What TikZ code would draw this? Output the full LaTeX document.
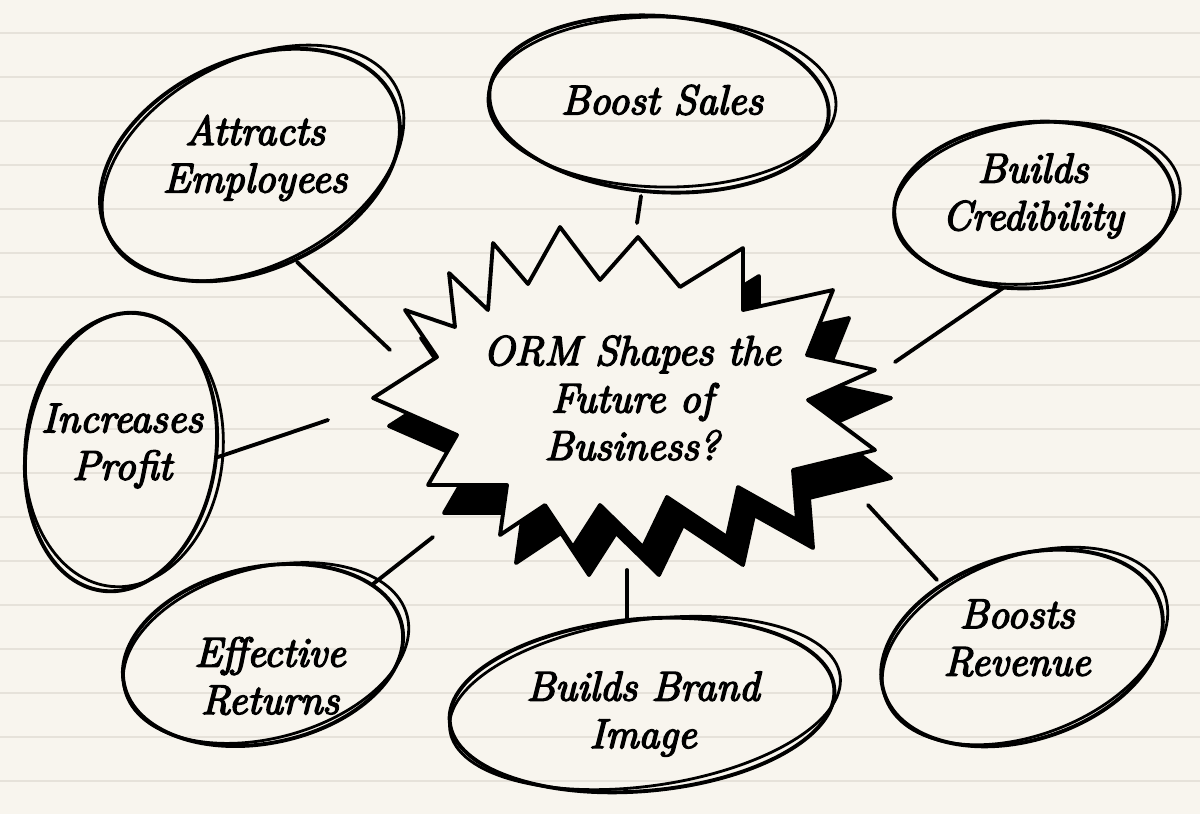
\documentclass[tikz,border=0pt]{standalone}
\usepackage{fontspec}
\usepackage{tikz}

\newfontfamily\handfont[ItalicFeatures={FakeBold=4}]{Latin Modern Roman}
\definecolor{paper}{HTML}{F8F5EE}
\definecolor{ruling}{HTML}{E6E2DA}

\begin{document}
\begin{tikzpicture}[x=0.01cm, y=-0.01cm,
    ink/.style={line width=1.1pt, black, line cap=round, line join=round},
    inkthin/.style={line width=0.8pt, black, line cap=round},
    label/.style={align=center, font=\fontsize{11.8}{13.5}\selectfont\handfont\itshape},
    shadow/.style={fill=black, draw=black, line width=1.1pt, line join=round},
    burst/.style={fill=paper, draw=black, line width=1.1pt, line join=round}]

    % paper
    \fill[paper] (0,0) rectangle (1200,814);
    \useasboundingbox (0,0) rectangle (1200,814);
    \foreach \yy in {33,77,...,781}
        \draw[ruling, line width=0.6pt] (0,\yy) -- (1200,\yy);

    % bubbles (centre / radii / tilt), drawn twice like a pen sketch
    \foreach \cx/\cy/\rx/\ry/\tilt in {250/165/158/105/25, 659/104/170/88/-4,
        1034/205/140/83/4, 121/452/95/140/-8, 263/655/142/88/12,
        642/705/193/86/5, 1022/648/145/92/18}{
        \draw[ink] (\cx,\cy) ellipse[x radius=\rx, y radius=\ry, rotate=\tilt];
        \draw[inkthin] (\cx+3,\cy-2) ellipse[x radius=\rx+4, y radius=\ry-3, rotate=\tilt+3];
    }

    % the burst with its shadow
    \foreach \st/\dx/\dy in {shadow/16/28, burst/0/0}
        \draw[\st, shift={(\dx,\dy)}] (373,398) -- (437,357) -- (405,310) -- (455,327)
            -- (449,273) -- (488,310) -- (493,243) -- (528,284) -- (560,227)
            -- (600,280) -- (638,237) -- (680,287) -- (743,248) -- (743,310)
            -- (833,290) -- (807,355) -- (875,370) -- (808,400) -- (875,450)
            -- (793,470) -- (797,520) -- (738,487) -- (727,537) -- (667,497)
            -- (643,547) -- (600,505) -- (573,547) -- (545,505) -- (500,535)
            -- (507,485) -- (428,485) -- (457,435) -- cycle;

    % texts
    \node[label] (orm) at (632,398) {ORM Shapes the\\Future of\\Business?};
    \node[label] (att) at (255,158) {Attracts\\Employees};
    \node[label] (sal) at (662,100) {Boost Sales};
    \node[label] (cre) at (1033,196) {Builds\\Credibility};
    \node[label] (pro) at (122,446) {Increases\\Profit};
    \node[label] (eff) at (270,676) {Effective\\Returns};
    \node[label] (bra) at (643,714) {Builds Brand\\Image};
    \node[label] (rev) at (1017,638) {Boosts\\Revenue};

    % connectors
    \coordinate (att-e) at (297,262);  \coordinate (att-b) at (390,350);
    \coordinate (sal-e) at (641,196);  \coordinate (sal-b) at (637,223);
    \coordinate (cre-e) at (1003,288); \coordinate (cre-b) at (895,362);
    \coordinate (pro-e) at (218,457);  \coordinate (pro-b) at (328,420);
    \coordinate (eff-e) at (373,584);  \coordinate (eff-b) at (433,537);
    \coordinate (bra-e) at (627,621);  \coordinate (bra-b) at (627,570);
    \coordinate (rev-e) at (937,580);  \coordinate (rev-b) at (868,505);
    \foreach \n in {att,sal,cre,pro,eff,bra,rev}
        \draw[ink] (\n-e) -- (\n-b);
\end{tikzpicture}
\end{document}
